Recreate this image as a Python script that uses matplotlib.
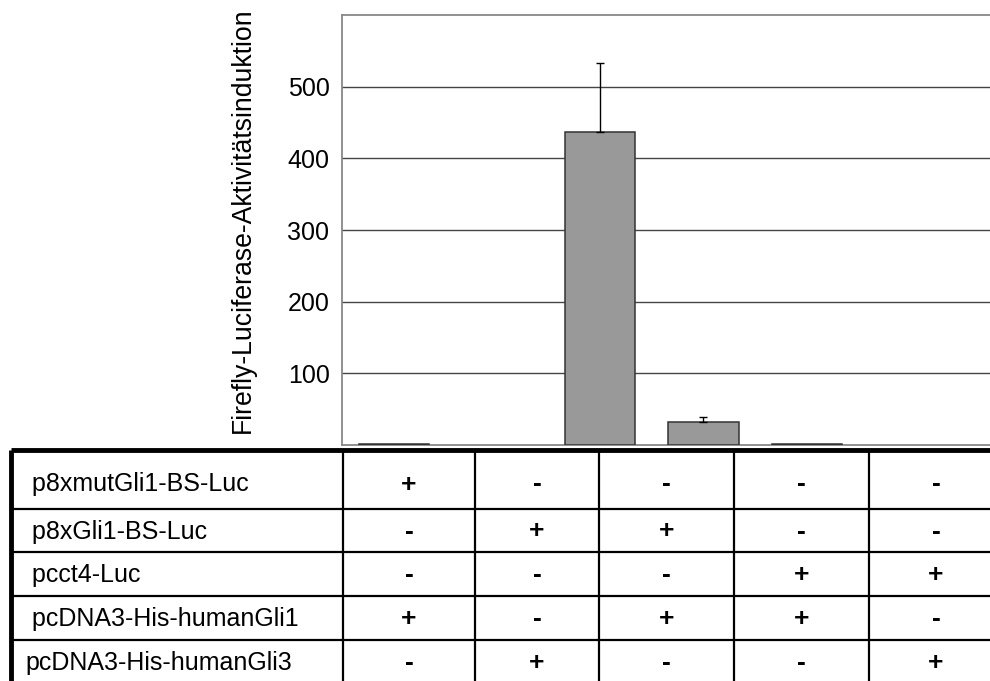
import matplotlib.pyplot as plt
import numpy as np

plt.rcParams['font.family'] = ['Liberation Sans', 'DejaVu Sans']

# luciferase induction per transfection
induction = [1.0, 0.0, 437.0, 32.0, 2.0]
induction_err = [0.0, 0.0, 96.0, 7.0, 0.0]

constructs = [' p8xmutGli1-BS-Luc', ' p8xGli1-BS-Luc', ' pcct4-Luc',
              ' pcDNA3-His-humanGli1', 'pcDNA3-His-humanGli3']
signs = [
    ['+', '-', '-', '-', '-'],
    ['-', '+', '+', '-', '-'],
    ['-', '-', '-', '+', '+'],
    ['+', '-', '+', '+', '-'],
    ['-', '+', '-', '-', '+'],
]
yticks = [100, 200, 300, 400, 500]

W, H = 990, 681
fig = plt.figure(figsize=(W / 100, H / 100), dpi=100)

# bar chart (empty groups get no outline, zero errors no whisker)
ax = fig.add_axes([342 / W, 1 - 445 / H, 648 / W, 430 / H])
x = np.arange(len(induction))
vals = np.array(induction)
errs = np.array(induction_err)
shown = vals > 0
ax.bar(x[shown], vals[shown], width=0.68, color='#999999', edgecolor='#333333',
       linewidth=1.1, zorder=3)
has_err = errs > 0
ax.errorbar(x[has_err], vals[has_err], yerr=[np.zeros(has_err.sum()), errs[has_err]],
            fmt='none', ecolor='black', elinewidth=1.0, capsize=3, capthick=1.0,
            zorder=4)
ax.set_xlim(-0.5, 5.775)
ax.set_ylim(0, 600)
ax.set_xticks([])
ax.set_yticks(yticks)
ax.tick_params(axis='y', length=0, pad=9, labelsize=18)
ax.yaxis.grid(True, color='#444444', linewidth=1.0)
ax.set_axisbelow(True)
for side in ['left', 'top', 'bottom']:
    ax.spines[side].set_color('#888888')
    ax.spines[side].set_linewidth(1.3)
ax.spines['right'].set_visible(False)
ax.set_ylabel('Firefly-Luciferase-Aktivitätsinduktion', fontsize=19.2, va='center')
ax.yaxis.set_label_coords(-0.153, 0.522)

# construct table under the bars
tab = fig.add_axes([0, 0, 1, 1], zorder=-1)
tab.set_xlim(0, W)
tab.set_ylim(H, 0)
tab.axis('off')
row_edges = [450, 509, 552, 596, 640, 684]
col_edges = [11, 343, 475, 599, 734, 869, 1003]
tab.hlines(row_edges[0], col_edges[0], W, color='black', linewidth=3.5)
tab.hlines(row_edges[1:-1], col_edges[0], W, color='black', linewidth=1.6)
tab.vlines(col_edges[0], row_edges[0], H, color='black', linewidth=3.5)
tab.vlines(col_edges[1:-1], row_edges[0], H, color='black', linewidth=1.6)

for i, name in enumerate(constructs):
    yc = (row_edges[i] + row_edges[i + 1]) / 2 + (5 if i == 0 else 1)
    tab.text(col_edges[0] + 14, yc, name, fontsize=18, ha='left', va='center')
    for j, s in enumerate(signs[i]):
        xc = (col_edges[j + 1] + col_edges[j + 2]) / 2
        tab.text(xc, yc, s, fontsize=19, fontweight='bold',
                 ha='center', va='center')

fig.savefig('out.png', dpi=100)
